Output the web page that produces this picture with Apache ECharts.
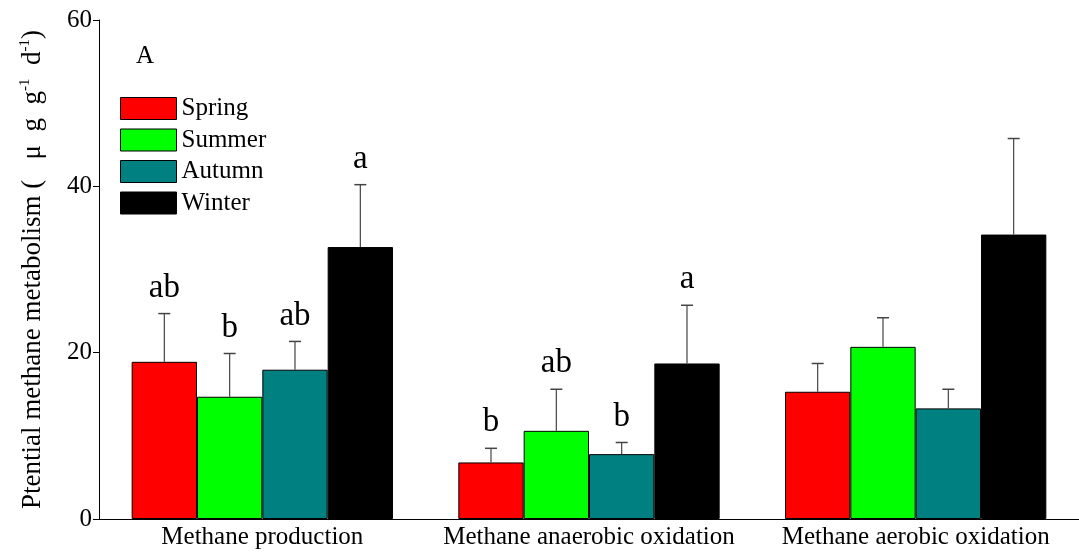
<!DOCTYPE html>
<html><head><meta charset="utf-8">
<script src="https://cdn.jsdelivr.net/npm/echarts@6/dist/echarts.min.js"></script>
<style>html,body{margin:0;padding:0;background:#fff}#c{width:1079px;height:559px}</style>
</head><body><div id="c"></div>
<script>
const categories = ['Methane production', 'Methane anaerobic oxidation', 'Methane aerobic oxidation'];
const seasons = ['Spring', 'Summer', 'Autumn', 'Winter'];
const colors = ['#ff0000', '#00ff00', '#008080', '#000000'];
const spring = [18.9, 6.8, 15.3];
const summer = [14.7, 10.6, 20.7];
const autumn = [17.95, 7.8, 13.3];
const winter = [32.7, 18.7, 34.2];
const springErr = [5.8, 1.7, 3.4];
const summerErr = [5.2, 5.0, 3.5];
const autumnErr = [3.4, 1.4, 2.3];
const winterErr = [7.5, 7.0, 11.55];
const springLbl = ['ab', 'b', ''];
const summerLbl = ['b', 'ab', ''];
const autumnLbl = ['ab', 'b', ''];
const winterLbl = ['a', 'a', ''];
const yTicks = [0, 20, 40, 60];

const vals = [spring, summer, autumn, winter];
const errs = [springErr, summerErr, autumnErr, winterErr];
const lbls = [springLbl, summerLbl, autumnLbl, winterLbl];
const serif = 'Liberation Serif, Times New Roman, serif';

const chart = echarts.init(document.getElementById('c'));
const series = [];
seasons.forEach((s, i) => {
  series.push({
    name: s, type: 'bar', data: vals[i], barGap: '0%', barCategoryGap: '20%',
    itemStyle: { color: colors[i], borderColor: '#000', borderWidth: 1 },
    z: 2
  });
});
seasons.forEach((s, i) => {
  series.push({
    type: 'custom', z: 3, silent: true,
    data: categories.map((c, j) => [j, vals[i][j], errs[i][j]]),
    encode: { x: 0, y: 1 },
    renderItem: function (params, api) {
      const j = api.value(0);
      const band = api.size([1, 0])[0];
      const bw = band * 0.8 / 4;
      const base = api.coord([j, api.value(1)]);
      const topP = api.coord([j, api.value(1) + api.value(2)]);
      const x = base[0] + (i - 1.5) * bw;
      const children = [
        { type: 'line', shape: { x1: x, y1: base[1], x2: x, y2: topP[1] }, style: { stroke: '#444', lineWidth: 1.2 } },
        { type: 'line', shape: { x1: x - 6, y1: topP[1], x2: x + 6, y2: topP[1] }, style: { stroke: '#444', lineWidth: 1.5 } }
      ];
      const t = lbls[i][j];
      if (t) {
        children.push({ type: 'text', x: x, y: topP[1] - 9,
          style: { text: t, font: '33px ' + serif, fill: '#000', align: 'center', verticalAlign: 'bottom' } });
      }
      return { type: 'group', children: children };
    }
  });
});

chart.setOption({
  animation: false,
  backgroundColor: '#fff',
  grid: { left: 99, top: 20, width: 986, height: 499, containLabel: false },
  legend: {
    data: seasons, orient: 'vertical', left: 120, top: 96,
    itemWidth: 56, itemHeight: 22, itemGap: 6.5, icon: 'rect',
    textStyle: { fontFamily: serif, fontSize: 25, color: '#000' },
    itemStyle: { borderColor: '#000', borderWidth: 1 },
    padding: 0
  },
  graphic: [{ type: 'text', left: 136, top: 44, style: { text: 'A', font: '25px ' + serif, fill: '#000' } }],
  xAxis: {
    type: 'category', data: categories,
    axisLine: { lineStyle: { color: '#000', width: 1 } },
    axisTick: { show: false },
    axisLabel: { fontFamily: serif, fontSize: 25, color: '#000', margin: 6, interval: 0, hideOverlap: false }
  },
  yAxis: {
    type: 'value', min: 0, max: 60, interval: 20,
    axisLine: { show: true, lineStyle: { color: '#000', width: 1 } },
    axisTick: { show: true, length: 6, lineStyle: { color: '#000' } },
    splitLine: { show: false },
    axisLabel: { fontFamily: serif, fontSize: 25, color: '#000', margin: 7,
      formatter: v => yTicks.includes(v) ? String(v) : '' },
    name: 'Ptential methane metabolism (   μ  g  g{sup|-1}  d{sup|-1})',
    nameLocation: 'middle', nameGap: 52, nameRotate: 90,
    nameTextStyle: { fontFamily: serif, fontSize: 27, color: '#000',
      rich: { sup: { fontFamily: serif, fontSize: 15, color: '#000', verticalAlign: 'top', padding: [0, 0, 14, 0] } } }
  },
  series: series
});
</script></body></html>
